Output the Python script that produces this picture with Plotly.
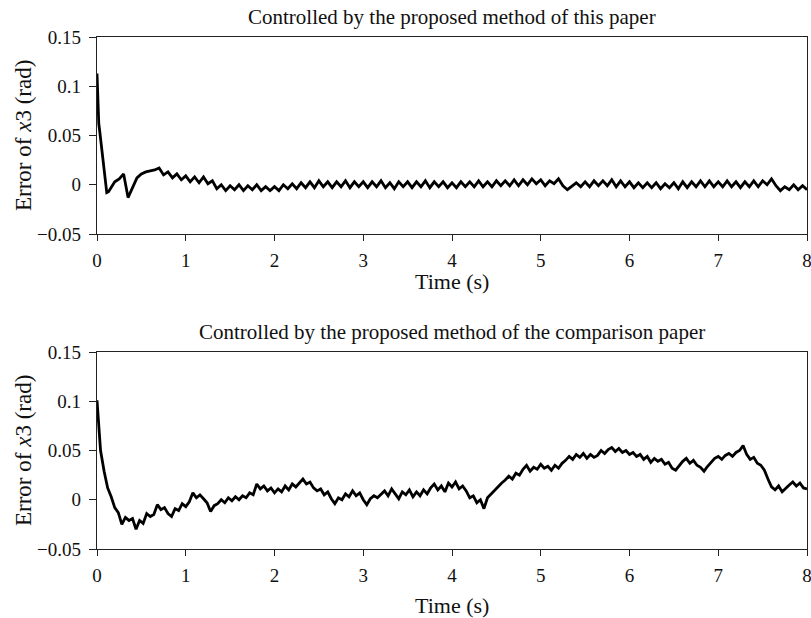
import numpy as np
import plotly.graph_objects as go

# ---------------- data ----------------
# Top panel: time samples (dense at start, then every 0.05 s)
top_time_early = [0.0, 0.01, 0.02, 0.03, 0.05, 0.07, 0.09, 0.11, 0.13]
top_err_early = [0.113, 0.072, 0.062, 0.055, 0.038, 0.02, 0.004, -0.008, -0.007]
top_time_regular = list(np.round(np.arange(0.15, 8.0001, 0.05), 2))
top_err_regular = [
    -0.004, 0.003, 0.006, 0.011, -0.013, -0.002, 0.007, 0.011, 0.013, 0.014,
    0.015, 0.017, 0.010, 0.013, 0.007, 0.011, 0.005, 0.009, 0.003, 0.008,
    0.002, 0.008, 0.001, 0.004, -0.004, 0.000, -0.006, -0.001, -0.005, 0.000,
    -0.006, -0.001, -0.005, 0.000, -0.006, -0.002, -0.006, -0.002, -0.006, 0.000,
    -0.004, 0.001, -0.004, 0.002, -0.003, 0.003, -0.003, 0.004, -0.002, 0.003,
    -0.003, 0.003, -0.002, 0.004, -0.003, 0.003, -0.002, 0.003, -0.003, 0.003,
    -0.002, 0.004, -0.003, 0.002, -0.004, 0.003, -0.002, 0.003, -0.003, 0.003,
    -0.002, 0.004, -0.003, 0.003, -0.002, 0.003, -0.003, 0.002, -0.003, 0.003,
    -0.002, 0.003, -0.002, 0.004, -0.002, 0.003, -0.002, 0.004, -0.001, 0.004,
    -0.001, 0.005, -0.001, 0.005, 0.000, 0.006, 0.001, 0.005, -0.001, 0.004,
    0.001, 0.006, -0.001, -0.005, -0.001, 0.002, -0.002, 0.003, -0.002, 0.004,
    -0.001, 0.004, -0.001, 0.005, -0.002, 0.004, -0.002, 0.003, -0.003, 0.002,
    -0.003, 0.002, -0.003, 0.002, -0.004, 0.001, -0.003, 0.002, -0.004, 0.003,
    -0.003, 0.003, -0.002, 0.004, -0.002, 0.004, -0.002, 0.003, -0.002, 0.004,
    -0.002, 0.003, -0.003, 0.003, -0.002, 0.004, -0.002, 0.004, 0.000, 0.006,
    -0.001, -0.006, -0.002, -0.005, 0.000, -0.005, -0.001, -0.005,
]
top_time = top_time_early + top_time_regular
top_err = top_err_early + top_err_regular

# Bottom panel: every 0.04 s
bottom_time = list(np.round(np.arange(0.0, 8.0001, 0.04), 2))
bottom_err = [
    0.101, 0.050, 0.029, 0.012, 0.003, -0.008, -0.013, -0.025, -0.018, -0.021,
    -0.019, -0.030, -0.021, -0.024, -0.014, -0.017, -0.015, -0.005, -0.010, -0.008,
    -0.014, -0.017, -0.009, -0.011, -0.004, -0.007, -0.002, 0.007, 0.002, 0.005,
    0.001, -0.003, -0.012, -0.006, -0.004, 0.000, -0.003, 0.002, -0.001, 0.003,
    0.000, 0.004, 0.002, 0.007, 0.005, 0.016, 0.011, 0.014, 0.009, 0.012,
    0.007, 0.011, 0.008, 0.014, 0.010, 0.016, 0.013, 0.017, 0.021, 0.016,
    0.018, 0.012, 0.009, 0.011, 0.005, 0.008, 0.001, -0.004, 0.002, 0.000,
    0.006, 0.003, 0.009, 0.004, 0.007, 0.000, -0.005, 0.001, 0.004, 0.002,
    0.006, 0.009, 0.004, 0.011, 0.006, 0.001, 0.008, 0.005, 0.010, 0.003,
    0.008, 0.004, 0.010, 0.006, 0.012, 0.016, 0.010, 0.014, 0.008, 0.017,
    0.013, 0.018, 0.011, 0.014, 0.009, 0.002, 0.004, -0.003, 0.000, -0.009,
    0.002, 0.006, 0.009, 0.014, 0.017, 0.020, 0.024, 0.021, 0.027, 0.025,
    0.031, 0.035, 0.029, 0.033, 0.031, 0.036, 0.032, 0.034, 0.030, 0.035,
    0.032, 0.037, 0.040, 0.044, 0.041, 0.046, 0.043, 0.047, 0.042, 0.046,
    0.043, 0.045, 0.050, 0.047, 0.051, 0.053, 0.049, 0.052, 0.048, 0.050,
    0.046, 0.048, 0.044, 0.046, 0.041, 0.044, 0.038, 0.042, 0.039, 0.041,
    0.036, 0.038, 0.032, 0.030, 0.035, 0.039, 0.042, 0.037, 0.040, 0.035,
    0.033, 0.029, 0.034, 0.038, 0.042, 0.044, 0.041, 0.045, 0.047, 0.044,
    0.048, 0.050, 0.055, 0.046, 0.041, 0.043, 0.037, 0.035, 0.030, 0.021,
    0.013, 0.010, 0.014, 0.008, 0.012, 0.015, 0.018, 0.014, 0.017, 0.012,
    0.011,
]

x_ticks = [0, 1, 2, 3, 4, 5, 6, 7, 8]
y_ticks = [-0.05, 0, 0.05, 0.1, 0.15]
y_tick_text = ["\u22120.05", "0", "0.05", "0.1", "0.15"]

titles = ["Controlled by the proposed method of this paper",
          "Controlled by the proposed method of the comparison paper"]
x_title = "Time (s)"
y_title = "Error of <i>x</i>3 (rad)"

# ---------------- figure ----------------
FONT = "Liberation Serif, Times New Roman, serif"
W, H = 811, 618
ML, MR, MT, MB = 97, 4, 37, 69
ph = H - MT - MB
pw = W - ML - MR

def py(px):  # pixel y -> paper y
    return (H - MB - px) / ph

def px_(x):  # pixel x -> paper x
    return (x - ML) / pw

fig = go.Figure()
fig.add_trace(go.Scatter(x=top_time, y=top_err, mode="lines",
                         line=dict(color="black", width=2.8),
                         xaxis="x", yaxis="y", showlegend=False))
fig.add_trace(go.Scatter(x=bottom_time, y=bottom_err, mode="lines",
                         line=dict(color="black", width=2.8),
                         xaxis="x2", yaxis="y2", showlegend=False))

axis_common = dict(showline=True, linecolor="#222", linewidth=1.3, mirror=True,
                   ticks="outside", tickwidth=1.3, tickcolor="#222",
                   showgrid=False, zeroline=False, automargin=False,
                   ticklabeloverflow="allow",
                   tickfont=dict(family=FONT, size=19, color="#111"))
x_common = dict(ticklen=6, ticklabelstandoff=3, **axis_common)
y_common = dict(ticklen=7, ticklabelstandoff=4, **axis_common)

fig.update_layout(
    width=W, height=H,
    margin=dict(l=ML, r=MR, t=MT, b=MB, autoexpand=False),
    paper_bgcolor="white", plot_bgcolor="white",
    font=dict(family=FONT, size=19, color="#111"),
    xaxis=dict(domain=[0, 1], range=[0, 8], tickvals=x_ticks, anchor="y", **x_common),
    yaxis=dict(domain=[py(234), 1], range=[-0.05, 0.15], tickvals=y_ticks,
               ticktext=y_tick_text, anchor="x", **y_common),
    xaxis2=dict(domain=[0, 1], range=[0, 8], tickvals=x_ticks, anchor="y2", **x_common),
    yaxis2=dict(domain=[0, py(352)], range=[-0.05, 0.15], tickvals=y_ticks,
                ticktext=y_tick_text, anchor="x2", **y_common),
)

TXT = 21
ann = []
for t, ypix in zip(titles, [17, 332]):
    ann.append(dict(text=t, x=0.5, y=py(ypix), xref="paper", yref="paper",
                    showarrow=False, xanchor="center", yanchor="middle",
                    font=dict(family=FONT, size=TXT, color="#111")))
for ypix in [281, 605]:
    ann.append(dict(text=x_title, x=0.5, y=py(ypix), xref="paper", yref="paper",
                    showarrow=False, xanchor="center", yanchor="middle",
                    font=dict(family=FONT, size=TXT + 1, color="#111")))
for ypix in [136, 451]:
    ann.append(dict(text=y_title, x=px_(23), y=py(ypix), xref="paper", yref="paper",
                    showarrow=False, xanchor="center", yanchor="middle", textangle=-90,
                    font=dict(family=FONT, size=TXT + 2, color="#111")))
fig.update_layout(annotations=ann)

fig.write_html("out.html", config={"displayModeBar": False},
               post_script="document.body.style.margin='0';document.body.style.overflow='hidden';")
